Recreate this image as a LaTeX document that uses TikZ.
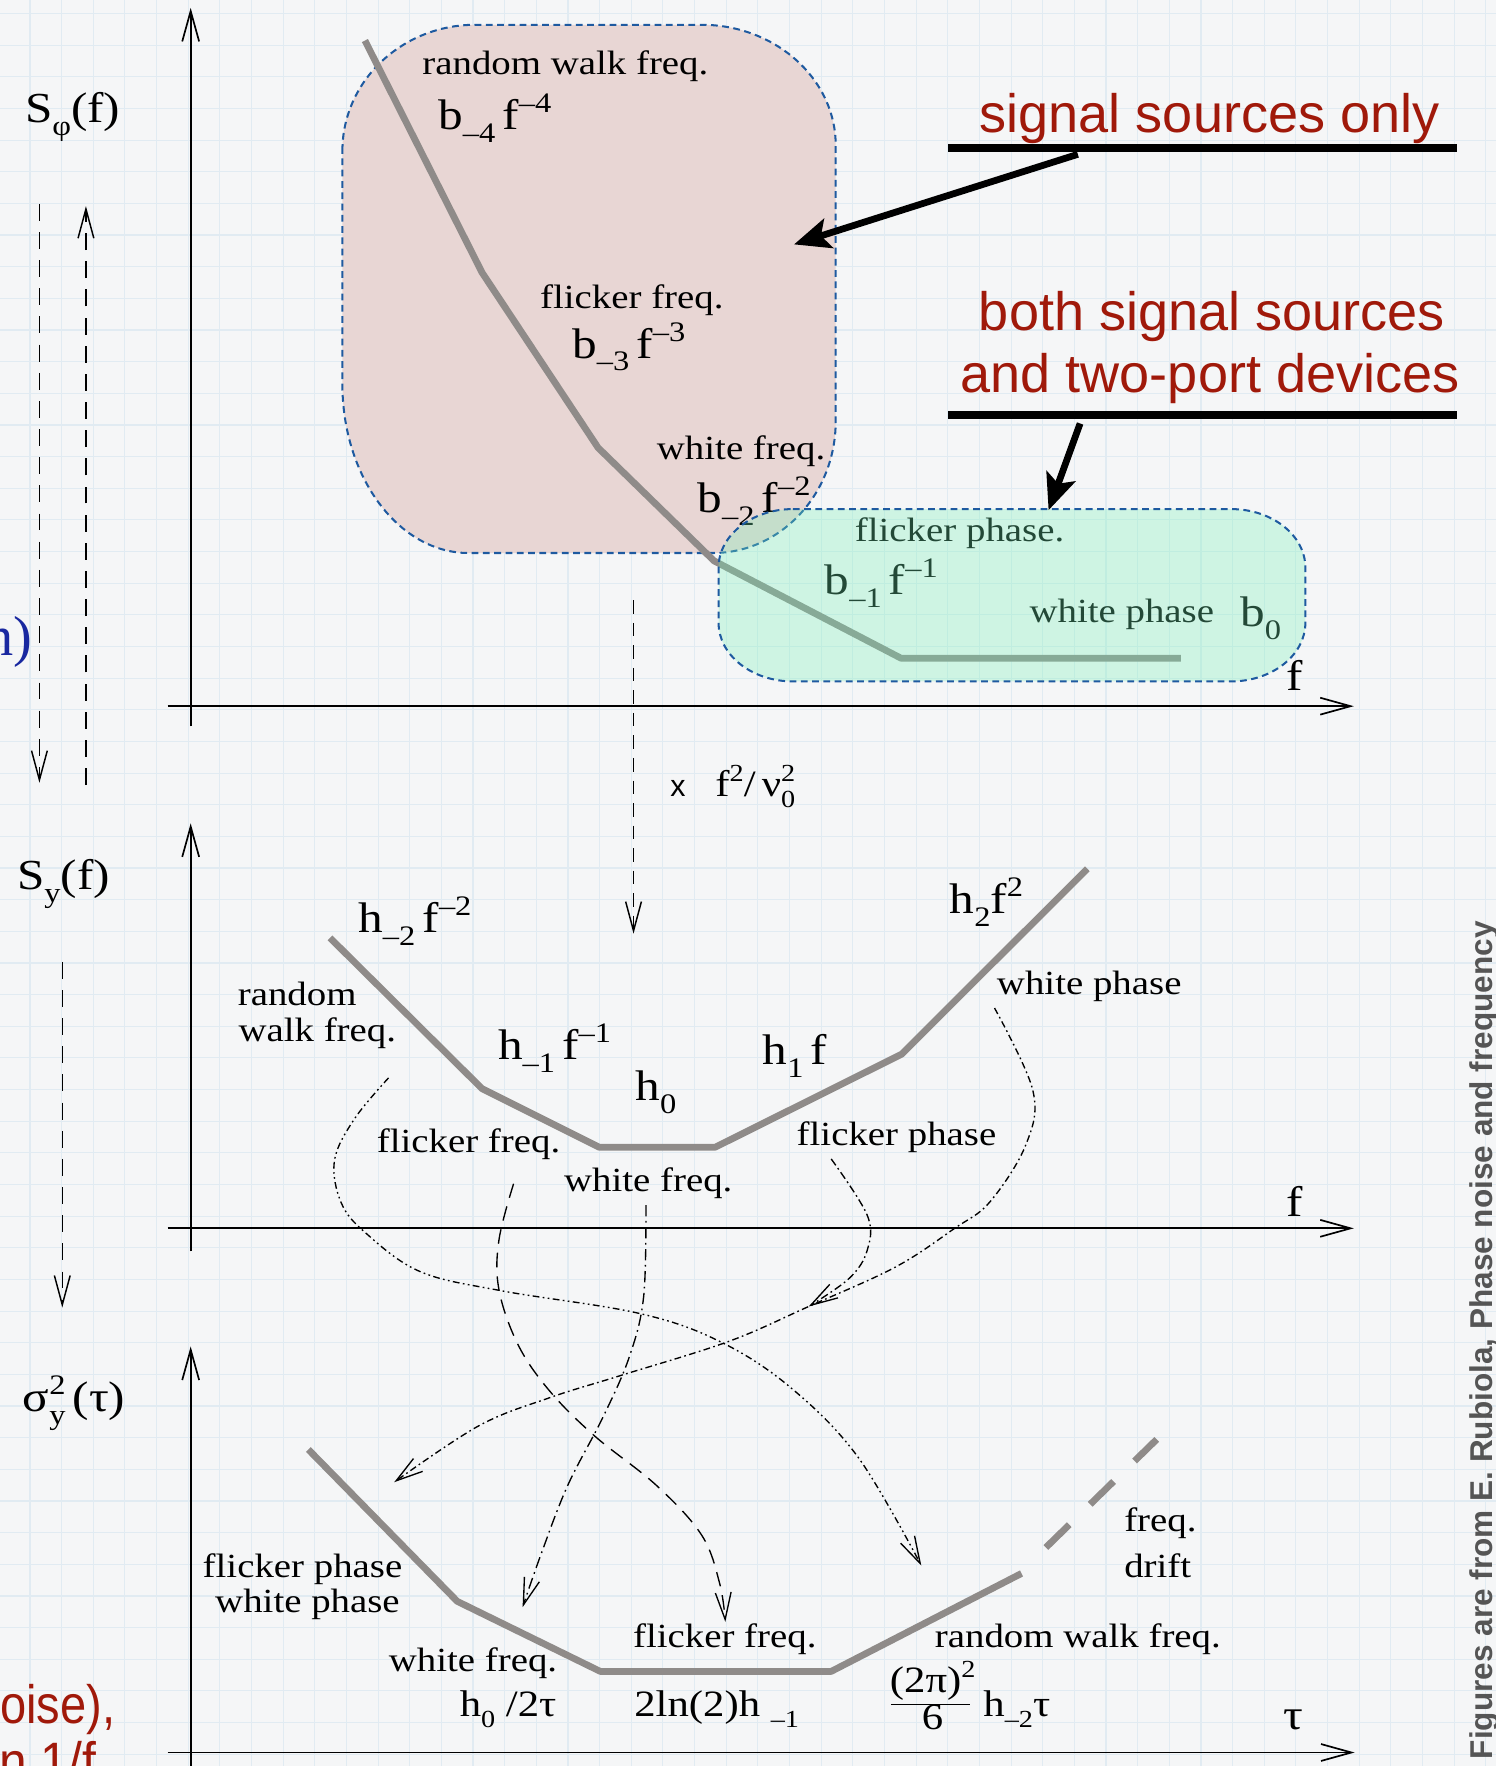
\documentclass[tikz,border=0pt]{standalone}
\usepackage{fontspec}
\usetikzlibrary{arrows.meta}
\newfontfamily\figfont[FakeStretch=1.15]{Liberation Serif}
\newfontfamily\slidesans{Liberation Sans}
\newfontfamily\slideserif{Liberation Serif}
\definecolor{bgc}{RGB}{245,246,247}
\definecolor{gridc}{RGB}{225,235,242}
\definecolor{curvec}{RGB}{143,139,137}
\definecolor{pinkc}{RGB}{232,214,212}
\definecolor{greenc}{RGB}{118,242,184}
\definecolor{borderc}{RGB}{30,90,160}
\definecolor{redc}{RGB}{160,25,10}
\definecolor{bluec}{RGB}{25,40,160}
\definecolor{creditc}{RGB}{85,85,85}
\newcommand{\lbltxt}{\figfont\fontsize{30}{32}\selectfont}
\newcommand{\mathtxt}{\figfont\fontsize{38}{40}\selectfont}
\newcommand{\smalltxt}{\figfont\fontsize{33}{35}\selectfont}
\newcommand{\redtxt}{\slidesans\fontsize{48}{55}\selectfont}
\newcommand{\mysub}[1]{\raisebox{-0.3em}{\scalebox{0.66}{#1}}}
\newcommand{\mysup}[1]{\raisebox{0.4em}{\scalebox{0.66}{#1}}}
\newcommand{\mysubsup}[2]{\rlap{\mysub{#1}}\mysup{#2}}
\tikzset{
  lbl/.style={inner sep=0pt, font=\lbltxt},
  mlbl/.style={inner sep=0pt, font=\mathtxt},
  slbl/.style={inner sep=0pt, font=\smalltxt},
  rlbl/.style={inner sep=0pt, font=\redtxt, text=redc},
  axisline/.style={line width=1.5pt, -{Straight Barb[length=27pt,width=15pt]}},
  spec/.style={draw=curvec, line width=6pt, line join=round},
  blob/.style={draw=borderc, line width=1.8pt, dash pattern=on 6pt off 4pt},
  annot/.style={line width=6pt, -{Stealth[length=32pt,width=27pt,inset=7pt]}},
  leftarrow/.style={line width=1.3pt, dash pattern=on 15pt off 10pt, -{Straight Barb[length=26pt,width=14pt]}},
  mapping/.style={line width=1.2pt, -{Straight Barb[length=24pt,width=14pt]}},
}
\begin{document}
\begin{tikzpicture}[x=1pt,y=-1pt]
\useasboundingbox (0,0) rectangle (1328,1568);
% background and grid
\fill[bgc] (0,0) rectangle (1328,1568);
\foreach \i in {0,...,46} \draw[gridc, line width=1pt] ({26.6+28.1*\i},0) -- ({26.6+28.1*\i},1568);
\foreach \j in {0,...,55} \draw[gridc, line width=1pt] (0,{12+28.1*\j}) -- (1328,{12+28.1*\j});

% pink region (signal sources only)
\path[fill=pinkc] (304,134) .. controls (304,72.1) and (356.8,22) .. (422,22) -- (623,22)
  .. controls (688.2,22) and (742,69.9) .. (742,129) -- (742,374)
  .. controls (742,438.6) and (693.2,491) .. (633,491) -- (416,491)
  .. controls (354.1,491) and (304,423.8) .. (304,341) -- cycle;
\path[blob] (304,134) .. controls (304,72.1) and (356.8,22) .. (422,22) -- (623,22)
  .. controls (688.2,22) and (742,69.9) .. (742,129) -- (742,374)
  .. controls (742,438.6) and (693.2,491) .. (633,491) -- (416,491)
  .. controls (354.1,491) and (304,423.8) .. (304,341) -- cycle;

% ---------- panel 1 : S_phi(f)
\coordinate (ax1b) at (169.3,645);
\coordinate (ax1t) at (169.3,7);
\coordinate (ax1l) at (148.8,627);
\coordinate (ax1r) at (1202,627);
\draw[axisline] (ax1b) -- (ax1t);
\draw[axisline] (ax1l) -- (ax1r);
\draw[spec] (324,36) -- (428,242) -- (531,397.5) -- (634,498) -- (800,584.4) -- (1048.4,584.4);

\node[mlbl, anchor=base west] (sphi) at (22,109) {S\mysub{φ}(f)};
\node[lbl, anchor=base] (t-rw) at (502,66) {random walk freq.};
\node[mlbl, anchor=base west] (t-b4) at (389,115) {b\mysub{–4}\,f\mysup{–4}};
\node[lbl, anchor=base] (t-fl) at (561,274) {flicker freq.};
\node[mlbl, anchor=base west] (t-b3) at (508,318) {b\mysub{–3}\,f\mysup{–3}};
\node[lbl, anchor=base] (t-wf) at (658,408) {white freq.};
\node[mlbl, anchor=base west] (t-b2) at (619,455) {b\mysub{–2}\,f\mysup{–2}};
\node[lbl, anchor=base] (t-fp) at (852,481) {flicker phase.};
\node[mlbl, anchor=base west] (t-b1) at (732,528) {b\mysub{–1}\,f\mysup{–1}};
\node[lbl, anchor=base] (t-wp) at (996,553) {white phase};
\node[mlbl, anchor=base west] (t-b0) at (1101,556) {b\mysub{0}};
\node[mlbl, anchor=base west] (t-f) at (1142,613) {f};

% green region (both sources and two-ports), translucent over the curve
\path[fill=greenc, fill opacity=0.3] (704,452) -- (1093,452) .. controls (1129.5,452) and (1159,475.3) .. (1159,504)
  -- (1159,553) .. controls (1159,581.7) and (1129.5,605) .. (1093,605) -- (704,605)
  .. controls (667.5,605) and (638,581.7) .. (638,553) -- (638,504)
  .. controls (638,475.3) and (667.5,452) .. (704,452) -- cycle;
\path[blob] (704,452) -- (1093,452) .. controls (1129.5,452) and (1159,475.3) .. (1159,504)
  -- (1159,553) .. controls (1159,581.7) and (1129.5,605) .. (1093,605) -- (704,605)
  .. controls (667.5,605) and (638,581.7) .. (638,553) -- (638,504)
  .. controls (638,475.3) and (667.5,452) .. (704,452) -- cycle;

% annotations
\node[rlbl, anchor=base] (ann1) at (1074,118) {signal sources only};
\coordinate (ul1a) at (842,131.5);
\coordinate (ul1b) at (1294,131.5);
\draw[line width=6.5pt] (ul1a) -- (ul1b);
\coordinate (a1s) at (957,137);
\coordinate (a1e) at (705,217);
\draw[annot] (a1s) -- (a1e);

\node[rlbl, anchor=base] (ann2a) at (1076,293.4) {both signal sources};
\node[rlbl, anchor=base] (ann2b) at (1074.4,348.7) {and two-port devices};
\coordinate (ul2a) at (842,368.5);
\coordinate (ul2b) at (1294,368.5);
\draw[line width=6.5pt] (ul2a) -- (ul2b);
\coordinate (a2s) at (959,376);
\coordinate (a2e) at (931,453);
\draw[annot] (a2s) -- (a2e);

% conversion arrow x f^2/nu0^2
\coordinate (cv-s) at (562.5,533);
\coordinate (cv-e) at (562.5,829);
\draw[leftarrow, dash pattern=on 12pt off 8pt] (cv-s) -- (cv-e);
\node[inner sep=0pt, anchor=base west, font=\slidesans\fontsize{27}{28}\selectfont] (cv-x) at (595,707) {x};
\node[inner sep=0pt, anchor=base west, font=\figfont\fontsize{33}{35}\selectfont] (cv-f) at (635,707) {f\mysup{2}/\,ν\mysubsup{0}{2}};

% ---------- panel 2 : S_y(f)
\coordinate (ax2b) at (169.3,1111);
\coordinate (ax2t) at (169.3,731);
\coordinate (ax2l) at (148.8,1090.6);
\coordinate (ax2r) at (1202,1090.6);
\draw[axisline] (ax2b) -- (ax2t);
\draw[axisline] (ax2l) -- (ax2r);
\draw[spec] (293,832.7) -- (428,966.6) -- (532,1018.6) -- (635,1018.6) -- (800.5,936) -- (965.4,771.4);

\node[mlbl, anchor=base west] (sy) at (15,790) {S\mysub{y}(f)};
\node[mlbl, anchor=base west] (h-2) at (318,828) {h\mysub{–2}\,f\mysup{–2}};
\node[lbl, anchor=base west] (rw2a) at (211,893) {random};
\node[lbl, anchor=base west] (rw2b) at (211.6,925) {walk freq.};
\node[mlbl, anchor=base west] (h-1) at (442,941) {h\mysub{–1}\,f\mysup{–1}};
\node[mlbl, anchor=base west] (h0) at (564,977) {h\mysub{0}};
\node[mlbl, anchor=base west] (h1) at (677,945) {h\mysub{1}\,f};
\node[mlbl, anchor=base west] (h2) at (843,811) {h\mysub{2}f\mysup{2}};
\node[lbl, anchor=base west] (wp2) at (885,883) {white phase};
\node[lbl, anchor=base] (ff2) at (416,1023) {flicker freq.};
\node[lbl, anchor=base] (wf2) at (575.6,1058) {white freq.};
\node[lbl, anchor=base] (fp2) at (796,1017) {flicker phase};
\node[mlbl, anchor=base west] (f2) at (1142,1080) {f};

% ---------- panel 3 : sigma_y^2(tau)
\coordinate (ax3b) at (169.3,1575);
\coordinate (ax3t) at (169.3,1195.5);
\coordinate (ax3l) at (148.8,1556);
\coordinate (ax3r) at (1202.7,1556);
\draw[axisline] (ax3b) -- (ax3t);
\draw[axisline] (ax3l) -- (ax3r);
\draw[spec] (273.8,1287) -- (406,1421.8) -- (533,1484) -- (738,1484) -- (907,1397);
\draw[spec, dash pattern=on 29pt off 26pt] (928.6,1374) -- (1027,1278);

\node[mlbl, anchor=base west] (sig) at (20,1253) {σ\mysubsup{y}{2}\,(τ)};
\node[lbl, anchor=base] (fp3) at (268.6,1401) {flicker phase};
\node[lbl, anchor=base] (wp3) at (273,1432) {white phase};
\node[lbl, anchor=base] (wf3) at (420,1484) {white freq.};
\node[slbl, anchor=base west] (wf3f) at (408,1524) {h\mysub{0} /2τ};
\node[lbl, anchor=base] (ff3) at (643.5,1463) {flicker freq.};
\node[slbl, anchor=base west] (ff3f) at (563,1524) {2ln(2)h \mysub{–1}};
\node[lbl, anchor=base] (rw3) at (957,1463) {random walk freq.};
\node[slbl, anchor=base west] (rw3n) at (790,1503) {(2π)\mysup{2}};
\node[slbl, anchor=base] (rw3d) at (828,1536) {6};
\draw[line width=1.4pt] (rw3n.south west) ++(1,3) -- ++(70,0);
\node[slbl, anchor=base west] (rw3h) at (873,1524) {h\mysub{–2}τ};
\node[lbl, anchor=base west] (fd1) at (998,1360) {freq.};
\node[lbl, anchor=base west] (fd2) at (998,1401) {drift};
\node[mlbl, anchor=base west] (tau) at (1139,1536) {τ};

% ---------- mapping curves between S_y(f) and sigma_y^2(tau)
\coordinate (rwA) at (345,957);
\coordinate (rwB) at (818,1390);
\draw[mapping, dash pattern=on 6pt off 3pt on 1.5pt off 3pt on 1.5pt off 3pt]
  plot[smooth, tension=0.6] coordinates {(rwA) (315,993) (297,1030) (303,1068) (325,1095) (373,1129) (445,1146) (567,1166) (639,1191) (702,1232) (762,1294) (rwB)};
\coordinate (ffA) at (456,1051);
\coordinate (ffB) at (644,1440);
\draw[mapping, dash pattern=on 13pt off 8pt]
  plot[smooth, tension=0.6] coordinates {(ffA) (443,1101) (443,1145) (460,1194) (488,1235) (528,1275) (583,1319) (623,1363) (639,1406) (ffB)};
\coordinate (wfA) at (573.5,1070);
\coordinate (wfB) at (464,1427);
\draw[mapping, dash pattern=on 10pt off 4pt on 1.5pt off 4pt]
  plot[smooth, tension=0.6] coordinates {(wfA) (571.5,1151) (559,1204) (536,1257) (504,1319) (480,1381) (wfB)};
\coordinate (fpA) at (738,1029);
\coordinate (fpB) at (718,1160);
\draw[mapping, dash pattern=on 7pt off 3pt on 1.5pt off 3pt]
  plot[smooth, tension=0.6] coordinates {(fpA) (770,1079) (770,1110) (754,1135) (fpB)};
\coordinate (wpA) at (883,895);
\coordinate (wpB) at (350,1316);
\draw[mapping, dash pattern=on 6pt off 3pt on 1.5pt off 3pt]
  plot[smooth, tension=0.6] coordinates {(wpA) (917,968) (911,1016) (879,1067) (847,1091) (795,1125) (718,1160) (647,1191) (552,1221) (488,1241) (425,1266) (wpB)};

% ---------- left-side dashed arrows and cut-off slide text
\coordinate (l1s) at (35,181);
\coordinate (l1e) at (35,695);
\draw[leftarrow] (l1s) -- (l1e);
\coordinate (l2s) at (76.3,697);
\coordinate (l2e) at (76.3,183);
\draw[leftarrow] (l2s) -- (l2e);
\coordinate (l3s) at (55.3,854);
\coordinate (l3e) at (55.3,1161);
\draw[leftarrow] (l3s) -- (l3e);

\node[inner sep=0pt, anchor=base east, font=\slideserif\fontsize{50}{50}\selectfont, text=bluec] (cut1) at (29,582) {n)};
\node[rlbl, anchor=base west] (cut2) at (0,1530) {\scalebox{0.87}[1]{oise),}};
\node[rlbl, anchor=base west] (cut3) at (-1,1581) {\scalebox{0.92}[1]{n 1/f}};

% credit
\node[inner sep=0pt, rotate=90, anchor=base west, text=creditc, font=\slidesans\bfseries\fontsize{28}{30}\selectfont] (credit) at (1325,1562) {Figures are from E. Rubiola, Phase noise and frequency};
\end{tikzpicture}
\end{document}
